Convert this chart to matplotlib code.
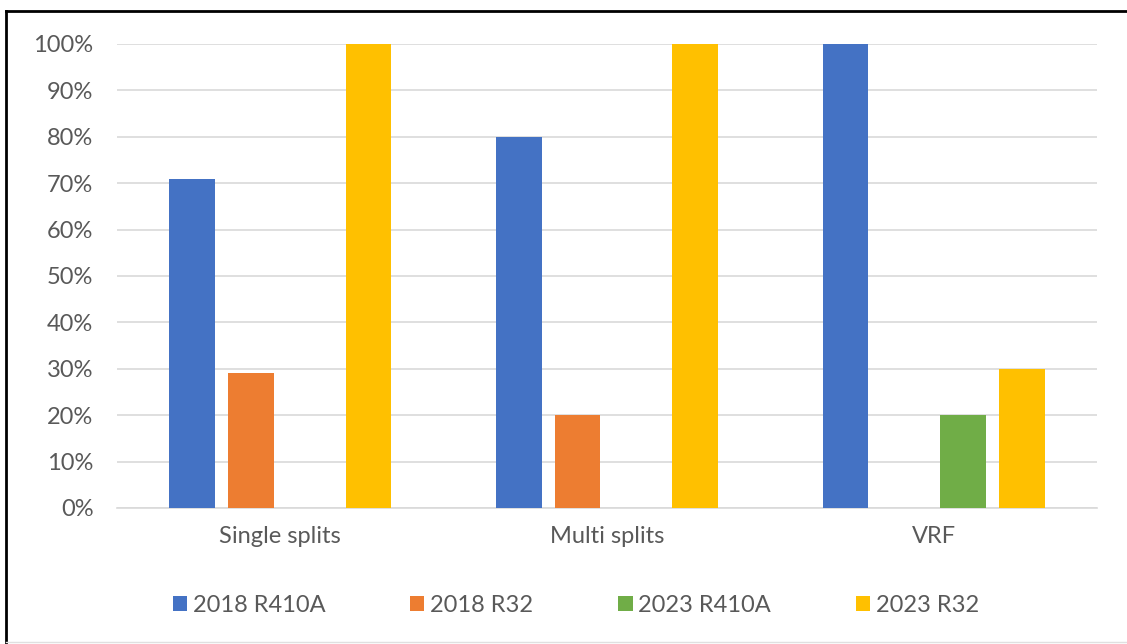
import matplotlib.pyplot as plt
import numpy as np
from matplotlib.patches import Patch
from matplotlib.lines import Line2D
from matplotlib.ticker import PercentFormatter

# data
categories = ['Single splits', 'Multi splits', 'VRF']
series_names = ['2018 R410A', '2018 R32', '2023 R410A', '2023 R32']
r410a_2018 = [71, 80, 100]
r32_2018 = [29, 20, 0]
r410a_2023 = [0, 0, 20]
r32_2023 = [100, 100, 30]
colors = ['#4472C4', '#ED7D31', '#70AD47', '#FFC000']

plt.rcParams['font.family'] = ['Lato', 'DejaVu Sans']
text_color = '#595959'

fig = plt.figure(figsize=(11.27, 6.44), dpi=100)
ax = fig.add_axes([117 / 1127, 136 / 644, 980 / 1127, 464 / 644])

x = np.arange(len(categories))
step = 0.18
width = 0.14
all_series = [r410a_2018, r32_2018, r410a_2023, r32_2023]
for i, vals in enumerate(all_series):
    offset = (i - 1.5) * step
    ax.bar(x + offset, vals, width, color=colors[i], zorder=3)

ax.set_xlim(-0.5, len(categories) - 0.5)
ax.set_ylim(0, 100)
ax.set_yticks(np.arange(0, 101, 10))
ax.yaxis.set_major_formatter(PercentFormatter(decimals=0))
ax.set_xticks(x)
ax.set_xticklabels(categories)
ax.tick_params(axis='both', length=0, labelsize=17, colors=text_color)
ax.tick_params(axis='y', pad=17)
ax.tick_params(axis='x', pad=13)

ax.grid(axis='y', color='#D9D9D9', linewidth=1.2, zorder=0)
for side in ['top', 'right', 'left']:
    ax.spines[side].set_visible(False)
ax.spines['bottom'].set_color('#D9D9D9')
ax.spines['bottom'].set_linewidth(1.2)

handles = [Patch(facecolor=c, edgecolor='none') for c in colors]
leg = fig.legend(handles, series_names, loc='center', ncol=4,
                 bbox_to_anchor=(576 / 1127, 1 - 605 / 644), frameon=False,
                 fontsize=17, handlelength=0.6, handleheight=0.6,
                 handletextpad=0.25, columnspacing=3.6)
for t in leg.get_texts():
    t.set_color(text_color)

# outer frame of the chart
fig.add_artist(Line2D([6 / 1127, 1.0], [1 - 11 / 644, 1 - 11 / 644], color='black', linewidth=2))
fig.add_artist(Line2D([6 / 1127, 6 / 1127], [0.0, 1 - 11 / 644], color='black', linewidth=2))
fig.add_artist(Line2D([6 / 1127, 1.0], [2 / 644, 2 / 644], color='#E0E0E0', linewidth=1))

fig.savefig('out.png', dpi=100)
